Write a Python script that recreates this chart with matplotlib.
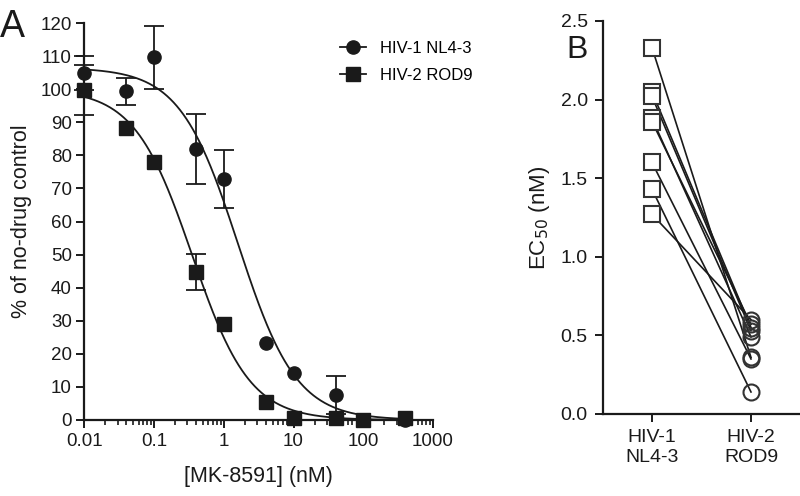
import matplotlib.pyplot as plt
from matplotlib.lines import Line2D
from matplotlib.ticker import LogLocator, NullFormatter, FixedLocator
import numpy as np

plt.rcParams['font.family'] = ['Liberation Sans', 'DejaVu Sans']

# Painel A: concentrações de MK-8591 (nM)
conc = [0.01, 0.04, 0.1, 0.4, 1, 4, 10, 40, 100, 400]

# HIV-1 NL4-3 (% do controle sem droga) e desvios
hiv1_vals = [104.8, 99.3, 109.6, 81.9, 72.8, 23.2, 14.3, 7.6, 0.0, 0.0]
hiv1_err = [5.2, 4.0, 9.4, 10.7, 8.7, 0, 0, 5.7, 0, 0]

# HIV-2 ROD9
hiv2_vals = [99.8, 88.2, 78.1, 44.8, 29.0, 5.5, 0.5, 0.5, 0.0, 0.5]
hiv2_err = [7.6, 0, 0, 5.4, 0, 0, 0, 0, 0, 0]

# Parâmetros das curvas ajustadas (topo, EC50, inclinação)
hiv1_fit = (106.5, 1.6, 1.04)
hiv2_fit = (100.0, 0.35, 1.05)

# Painel B: EC50 (nM) pareados
ec50_hiv1 = [2.33, 2.05, 2.02, 1.88, 1.86, 1.60, 1.43, 1.27]
ec50_hiv2 = [0.36, 0.55, 0.53, 0.49, 0.57, 0.35, 0.14, 0.60]
groups_b = ['HIV-1\nNL4-3', 'HIV-2\nROD9']

INK = '#1a1a1a'


def logistic(x, top, ec50, hill):
    return top / (1 + (x / ec50) ** hill)


W, H = 800, 496
fig = plt.figure(figsize=(W / 100, H / 100), dpi=100)

# ---------------- Painel A ----------------
ax1 = fig.add_axes([84.3 / W, (H - 420) / H, (433 - 84.3) / W, (420 - 23) / H])

xs = np.logspace(-2, np.log10(400), 400)
ax1.plot(xs, logistic(xs, *hiv1_fit), color=INK, lw=1.3, zorder=2)
ax1.plot(xs, logistic(xs, *hiv2_fit), color=INK, lw=1.3, zorder=2)

# Barras de erro só onde aparecem
for vals, errs in [(hiv1_vals, hiv1_err), (hiv2_vals, hiv2_err)]:
    idx = [i for i, e in enumerate(errs) if e > 0]
    ax1.errorbar([conc[i] for i in idx], [vals[i] for i in idx],
                 yerr=[errs[i] for i in idx], fmt='none', ecolor=INK,
                 elinewidth=1.3, capsize=7, capthick=1.3, clip_on=False, zorder=2)

ax1.plot(conc, hiv1_vals, 'o', color=INK, ms=9.5, clip_on=False, zorder=3)
ax1.plot(conc, hiv2_vals, 's', color=INK, ms=9.5, clip_on=False, zorder=4)

ax1.set_xscale('log')
ax1.set_xlim(0.01, 1000)
ax1.set_ylim(0, 120)
ax1.set_yticks(np.arange(0, 121, 10))
ax1.set_xticks([0.01, 0.1, 1, 10, 100, 1000])
ax1.set_xticklabels(['0.01', '0.1', '1', '10', '100', '1000'])
ax1.xaxis.set_minor_locator(LogLocator(base=10, subs=np.arange(2, 10), numticks=20))
ax1.xaxis.set_minor_formatter(NullFormatter())

for s in ['top', 'right']:
    ax1.spines[s].set_visible(False)
for s in ['left', 'bottom']:
    ax1.spines[s].set_linewidth(1.6)
    ax1.spines[s].set_color(INK)
ax1.tick_params(which='major', direction='out', length=6, width=1.4,
                labelsize=13.5, colors=INK, pad=3)
ax1.tick_params(which='minor', direction='out', length=3.5, width=1.2, colors=INK)

ax1.set_ylabel('% of no-drug control', fontsize=15.5, color=INK, labelpad=6)
ax1.set_xlabel('[MK-8591] (nM)', fontsize=15.5, color=INK, labelpad=12)

handles = [
    Line2D([], [], color=INK, marker='o', ms=9.5, lw=1.3),
    Line2D([], [], color=INK, marker='s', ms=9.5, lw=1.3),
]
ax1.legend(handles, ['HIV-1 NL4-3', 'HIV-2 ROD9'], loc='upper left',
           bbox_to_anchor=((333 - 84.3) / (433 - 84.3), 1.0 - 11 / 397), frameon=False,
           fontsize=12, handlelength=1.6, handletextpad=0.8, labelspacing=0.75,
           borderaxespad=0.2, borderpad=0.2)

fig.text(0 / W, 1 - 37 / H, 'A', fontsize=27, color=INK, va='baseline')

# ---------------- Painel B ----------------
ax2 = fig.add_axes([603 / W, (H - 414) / H, (800 - 603) / W, (414 - 21) / H])

for a, b in zip(ec50_hiv1, ec50_hiv2):
    ax2.plot([0, 1], [a, b], color=INK, lw=1.2, zorder=2)
ax2.plot(np.zeros(len(ec50_hiv1)), ec50_hiv1, 's', ms=12, mfc='white',
         mec='#333333', mew=1.5, linestyle='none', zorder=3)
ax2.plot(np.ones(len(ec50_hiv2)), ec50_hiv2, 'o', ms=11.5, mfc='none',
         mec='#333333', mew=1.5, linestyle='none', zorder=3)

ax2.set_xlim(-0.495, 1.495)
ax2.set_ylim(0, 2.5)
ax2.set_yticks(np.arange(0, 2.51, 0.5))
ax2.set_yticklabels(['%.1f' % v for v in np.arange(0, 2.51, 0.5)])
ax2.xaxis.set_major_locator(FixedLocator([0, 1]))
ax2.set_xticklabels(groups_b)

for s in ['top', 'right']:
    ax2.spines[s].set_visible(False)
for s in ['left', 'bottom']:
    ax2.spines[s].set_linewidth(1.6)
    ax2.spines[s].set_color(INK)
ax2.tick_params(direction='out', length=6, width=1.4, labelsize=14,
                colors=INK, pad=5)

ax2.set_ylabel('EC$_{50}$ (nM)', fontsize=16, color=INK, labelpad=6)

fig.text(566 / W, 1 - 58 / H, 'B', fontsize=23, color=INK, va='baseline')

fig.savefig('out.png', dpi=100)
